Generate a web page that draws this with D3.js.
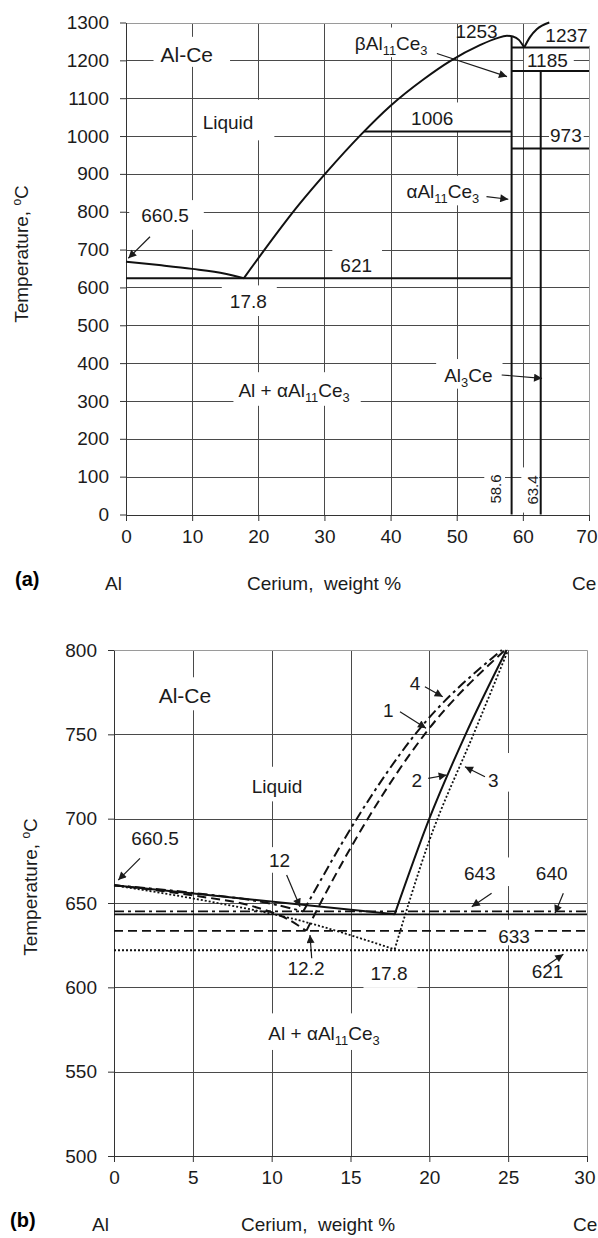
<!DOCTYPE html>
<html>
<head>
<meta charset="utf-8">
<script src="https://cdn.jsdelivr.net/npm/d3@7/dist/d3.min.js"></script>
<style>
html,body{margin:0;padding:0;background:#ffffff;}
svg{display:block;}
text{font-family:"Liberation Sans",Arial,Helvetica,sans-serif;}
</style>
</head>
<body>
<svg id="chart" width="598" height="1238" xmlns="http://www.w3.org/2000/svg"></svg>
<script>
// ================= Panel (a): Al–Ce, 0–70 wt% Ce =================
const aXTicks = [0,10,20,30,40,50,60,70];
const aYTicks = [0,100,200,300,400,500,600,700,800,900,1000,1100,1200,1300];
// liquidus, Al side  [wt% Ce, °C]
const aLiqAl  = [[0,668],[5,659],[10,649],[15,636],[17.8,624]];
// liquidus from eutectic to the Al11Ce3 maximum and the peritectic cusp
const aLiqMid = [[17.8,624],[26.3,822],[30.1,900],[35.6,1005],[40,1080],[45,1150],[49,1198],[53.5,1240],[56,1258],[57.6,1265],[58.5,1263],[59.4,1254],[60.2,1234]];
// liquidus beyond the cusp (Al3Ce side)
const aLiqCe  = [[60.2,1234],[61.1,1262],[62.1,1282],[64.0,1300]];
// horizontal invariant lines: temperature, from, to (wt% Ce)
const aIsoT    = [624, 1012, 967, 1172, 1234];
const aIsoFrom = [0, 36.0, 58.3, 58.3, 58.3];
const aIsoTo   = [58.3, 58.3, 70, 70, 70];
// vertical compound lines: composition, top temperature
const aCompX   = [58.3, 62.7];
const aCompTop = [1263, 1172];

// ================= Panel (b): Al–Ce, 0–30 wt% Ce =================
const bXTicks = [0,5,10,15,20,25,30];
const bYTicks = [500,550,600,650,700,750,800];
// curve 1 (dashed)
const bC1L = [[0,660.5],[5,654.5],[9,647.5],[11,640.5],[12.2,633.5]];
const bC1R = [[12.2,633.5],[13.1,650],[16.1,700],[19.7,750],[24.8,800]];
// curve 2 (solid)
const bC2L = [[0,660.5],[17.8,643.3]];
const bC2R = [[17.8,643.3],[20,700],[22.3,750],[24.9,800]];
// curve 3 (dotted)
const bC3L = [[0,660.5],[6,651],[11.2,641],[17.8,622.5]];
const bC3R = [[17.8,622.5],[20,687],[22.8,750],[25,800]];
// curve 4 (dash-dot)
const bC4L = [[0,660.5],[5,656],[10,649.5],[12,645]];
const bC4R = [[12,645],[12.3,650],[15.4,700],[19.1,750],[24.6,800]];
// eutectic isotherms
const bEutT = [633.5, 643.3, 622, 645];   // curves 1,2,3,4

// ---------------- styles ----------------
const INK = "#1b1b1b", GRID = "#4a4a4a", BORDER = "#9a9a9a", LINE = "#111";
const DASH = {solid:null, dashed:"9,5", dotted:"2,2", dashdot:"10,4,3,4"};

const svg = d3.select("#chart");
svg.append("rect").attr("width",598).attr("height",1238).attr("fill","#fff");
const defs = svg.append("defs");
defs.append("marker").attr("id","ah").attr("viewBox","0 0 10 10")
  .attr("refX",10).attr("refY",5).attr("markerWidth",10).attr("markerHeight",8)
  .attr("markerUnits","userSpaceOnUse").attr("orient","auto")
  .append("path").attr("d","M0,0L10,5L0,10Z").attr("fill",INK);

function panel(P){
  const x = d3.scaleLinear().domain(P.xDom).range(P.xRng);
  const y = d3.scaleLinear().domain(P.yDom).range(P.yRng);
  const root = svg.append("g");
  const L = {grid:root.append("g"), box:root.append("g"), axis:root.append("g"),
             data:root.append("g"), over:root.append("g"), text:root.append("g")};
  const [x0,x1] = P.xDom, [y0,y1] = P.yDom;
  const cx = v => Math.round(x(v)) + 0.5, cy = v => Math.round(y(v)) + 0.5;

  // grid
  L.grid.selectAll("line.gv").data(P.xTicks.filter(v => v > x0 && v < x1)).join("line").attr("class","gv")
    .attr("x1",cx).attr("x2",cx).attr("y1",cy(y0)).attr("y2",cy(y1)).attr("stroke",GRID).attr("stroke-width",1);
  L.grid.selectAll("line.gh").data(P.yTicks.filter(v => v > y0 && v < y1)).join("line").attr("class","gh")
    .attr("y1",cy).attr("y2",cy).attr("x1",cx(x0)).attr("x2",cx(x1)).attr("stroke",GRID).attr("stroke-width",1);
  L.grid.append("path").attr("d",`M${cx(x0)},${cy(y1)}H${cx(x1)}V${cy(y0)}`)
    .attr("fill","none").attr("stroke",BORDER).attr("stroke-width",1);

  // axes
  const gx = L.axis.append("g").attr("transform",`translate(0,${Math.round(y(y0))})`)
    .call(d3.axisBottom(x).tickValues(P.xTicks).tickSize(6).tickSizeOuter(0).tickPadding(9).tickFormat(d3.format("d")));
  const gy = L.axis.append("g").attr("transform",`translate(${Math.round(x(x0))},0)`)
    .call(d3.axisLeft(y).tickValues(P.yTicks).tickSize(6).tickSizeOuter(0).tickPadding(11).tickFormat(d3.format("d")));
  [gx,gy].forEach(g => {
    g.attr("font-family",null).attr("font-size",null);
    g.select(".domain").attr("stroke","#333");
    g.selectAll(".tick line").attr("stroke","#333");
    g.selectAll(".tick text").attr("font-size",19).attr("fill",INK);
  });
  // keep the last x tick label inside the page
  gx.selectAll(".tick text").filter(d => d === x1).attr("text-anchor","end").attr("dx","0.42em");

  const line = d3.line().x(d => x(d[0])).y(d => y(d[1])).curve(d3.curveMonotoneX);
  return {x, y, L, line};
}

function drawLabels(C, labels){
  const {x, y, L} = C;
  labels.forEach(lab => {
    const size = lab.size || 19;
    const tr = `translate(${x(lab.x)},${y(lab.t)})` + (lab.rotate ? " rotate(-90)" : "");
    const tg = L.text.append("g").attr("transform",tr);
    const t = tg.append("text").attr("font-size",size).attr("fill",INK)
      .attr("text-anchor", lab.anchor || "middle");
    let down = false;
    lab.parts.forEach(p => {
      const ts = t.append("tspan").text(p[0]);
      if (p[1] === "sub") {
        ts.attr("font-size",(size*0.68).toFixed(1));
        if (!down) { ts.attr("dy",(size*0.26).toFixed(1)); down = true; }
      } else if (down) { ts.attr("dy",(-size*0.26).toFixed(1)); down = false; }
    });
    if (lab.box === false) return;
    const bb = t.node().getBBox();
    const [pl,pr,pt,pb] = lab.pad || [8,10,9,7];
    const capH = size*0.716;
    (lab.over ? L.over : L.box).append("rect").attr("transform",tr)
      .attr("x",bb.x-pl).attr("y",-capH-pt).attr("width",bb.width+pl+pr).attr("height",capH+pt+pb)
      .attr("fill","#fff");
  });
}

function drawArrows(C, arrows){
  const {x, y, L} = C;
  L.text.selectAll("line.arr").data(arrows).join("line").attr("class","arr")
    .attr("x1",d => x(d[0])).attr("y1",d => y(d[1])).attr("x2",d => x(d[2])).attr("y2",d => y(d[3]))
    .attr("stroke",INK).attr("stroke-width",1.2).attr("marker-end","url(#ah)");
}

function yTitle(px, py){
  const t = svg.append("text").attr("transform",`translate(${px},${py}) rotate(-90)`)
    .attr("text-anchor","middle").attr("font-size",19).attr("fill",INK);
  t.append("tspan").text("Temperature, ");
  t.append("tspan").text("o").attr("font-size",12).attr("dy",-7);
  t.append("tspan").text("C").attr("dy",7);
}
function footer(yb, tag, tagX, alX, midX, ceX){
  svg.append("text").attr("x",tagX).attr("y",yb-4).attr("font-size",20).attr("font-weight","bold").attr("fill","#000").text(tag);
  svg.append("text").attr("x",alX).attr("y",yb).attr("font-size",19).attr("fill",INK).text("Al");
  svg.append("text").attr("x",midX).attr("y",yb).attr("font-size",19).attr("fill",INK)
    .attr("text-anchor","middle").style("white-space","pre").text("Cerium,  weight %");
  svg.append("text").attr("x",ceX).attr("y",yb).attr("font-size",19).attr("fill",INK).text("Ce");
}

// ================= draw panel (a) =================
const A = panel({xDom:[0,70], xRng:[126,589], yDom:[0,1300], yRng:[514.5,22.5], xTicks:aXTicks, yTicks:aYTicks});
[aLiqAl, aLiqMid, aLiqCe].forEach(s => {
  A.L.data.append("path").attr("d",A.line(s)).attr("fill","none").attr("stroke",LINE).attr("stroke-width",2);
});
A.L.data.selectAll("line.iso").data(aIsoT).join("line").attr("class","iso")
  .attr("x1",(d,i) => A.x(aIsoFrom[i])).attr("x2",(d,i) => A.x(aIsoTo[i]))
  .attr("y1",d => A.y(d)).attr("y2",d => A.y(d)).attr("stroke",LINE).attr("stroke-width",2);
A.L.data.selectAll("line.cmp").data(aCompX).join("line").attr("class","cmp")
  .attr("x1",d => A.x(d)).attr("x2",d => A.x(d)).attr("y1",A.y(0)).attr("y2",(d,i) => A.y(aCompTop[i]))
  .attr("stroke",LINE).attr("stroke-width",2);

drawLabels(A, [
  {parts:[["Al-Ce"]], x:9.19, t:1196, size:21, pad:[7,17,10,5]},
  {parts:[["Liquid"]], x:15.42, t:1017.7, pad:[6,21,16,11]},
  {parts:[["660.5"]], x:5.9, t:773.6, pad:[12,15,8,8]},
  {parts:[["17.8"]], x:18.49, t:545.6, pad:[8,10,9,8]},
  {parts:[["621"]], x:34.8, t:641.5},
  {parts:[["1006"]], x:46.3, t:1029},
  {parts:[["1253"]], x:53.0, t:1258, box:false},
  {parts:[["1237"]], x:66.6, t:1249, pad:[8,6,5,4]},
  {parts:[["1185"]], x:63.7, t:1183, pad:[3,6,8,5]},
  {parts:[["973"]], x:66.5, t:985, pad:[1,2,8,6]},
  {parts:[["βAl"],["11","sub"],["Ce"],["3","sub"]], x:34.6, t:1227, anchor:"start"},
  {parts:[["αAl"],["11","sub"],["Ce"],["3","sub"]], x:42.4, t:835.4, anchor:"start"},
  {parts:[["Al + αAl"],["11","sub"],["Ce"],["3","sub"]], x:17.0, t:311, anchor:"start", pad:[5,11,11,9]},
  {parts:[["Al"],["3","sub"],["Ce"]], x:48.1, t:351, anchor:"start"},
  {parts:[["58.6"]], x:56.7, t:67.4, rotate:true, size:15, pad:[8,8,6,4]},
  {parts:[["63.4"]], x:62.3, t:64.7, rotate:true, size:15, pad:[8,8,6,1]}
]);
drawArrows(A, [
  [3.63,734,0.35,677],
  [47.0,1218,57.6,1157],
  [54.5,840,57.8,833],
  [56.8,368.6,62.9,359.8]
]);
yTitle(28, 254);
footer(590, "(a)", 15, 105, 324, 572);

// ================= draw panel (b) =================
const B = panel({xDom:[0,30], xRng:[114,587], yDom:[500,800], yRng:[1156,650], xTicks:bXTicks, yTicks:bYTicks});
const bStyles = ["dashed","solid","dotted","dashdot"];
const bLeft = [bC1L, bC2L, bC3L, bC4L], bRight = [bC1R, bC2R, bC3R, bC4R];
bEutT.forEach((t,i) => {
  B.L.data.append("line").attr("x1",B.x(0)).attr("x2",B.x(30)).attr("y1",B.y(t)).attr("y2",B.y(t))
    .attr("stroke",LINE).attr("stroke-width",bStyles[i]==="dotted"?2:1.8).attr("stroke-dasharray",DASH[bStyles[i]]);
});
bLeft.forEach((s,i) => {
  [s, bRight[i]].forEach(seg => {
    B.L.data.append("path").attr("d",B.line(seg)).attr("fill","none").attr("stroke",LINE)
      .attr("stroke-width",bStyles[i]==="dotted"?1.8:2).attr("stroke-dasharray",DASH[bStyles[i]]);
  });
});
drawLabels(B, [
  {parts:[["Al-Ce"]], x:4.5, t:768.4, size:21, pad:[7,10,11,7]},
  {parts:[["Liquid"]], x:10.34, t:715.0, pad:[8,8,13,8]},
  {parts:[["660.5"]], x:2.6, t:684.4, pad:[8,8,8,8]},
  {parts:[["12"]], x:10.5, t:671.5, pad:[4,6,6,6]},
  {parts:[["12.2"]], x:12.18, t:607.3, pad:[4,4,2,4]},
  {parts:[["17.8"]], x:17.44, t:604.4, pad:[7,10,9,8]},
  {parts:[["Al + αAl"],["11","sub"],["Ce"],["3","sub"]], x:9.79, t:568.8, anchor:"start", pad:[5,10,13,10]},
  {parts:[["633"]], x:25.37, t:626.1, pad:[12,5,10,2], over:true},
  {parts:[["621"]], x:27.5, t:605.4, pad:[4,4,3,4]},
  {parts:[["643"]], x:23.2, t:663.6, pad:[8,16,9,6]},
  {parts:[["640"]], x:27.76, t:663.6, pad:[8,8,9,6]},
  {parts:[["4"]], x:19.09, t:776.3, pad:[4,4,6,4]},
  {parts:[["1"]], x:17.4, t:760.1, pad:[4,4,6,4]},
  {parts:[["2"]], x:19.2, t:719.0, pad:[4,4,6,4]},
  {parts:[["3"]], x:24.06, t:719.0, pad:[4,12,20,5]}
]);
drawArrows(B, [
  [1.65,676.5,0.27,663.6],
  [10.95,666.6,11.8,647.8],
  [12.54,617.2,12.43,631],
  [27.34,612.2,28.5,619.6],
  [23.95,655.8,22.69,647.8],
  [28.5,655.8,27.97,643.9],
  [19.72,778.2,20.85,772.3],
  [18.14,763.4,19.79,753.6],
  [19.93,723.9,21.1,725.9],
  [23.53,724.9,22.26,730.8]
]);
yTitle(37, 887);
footer(1231, "(b)", 10, 92, 318, 573);
</script>
</body>
</html>
